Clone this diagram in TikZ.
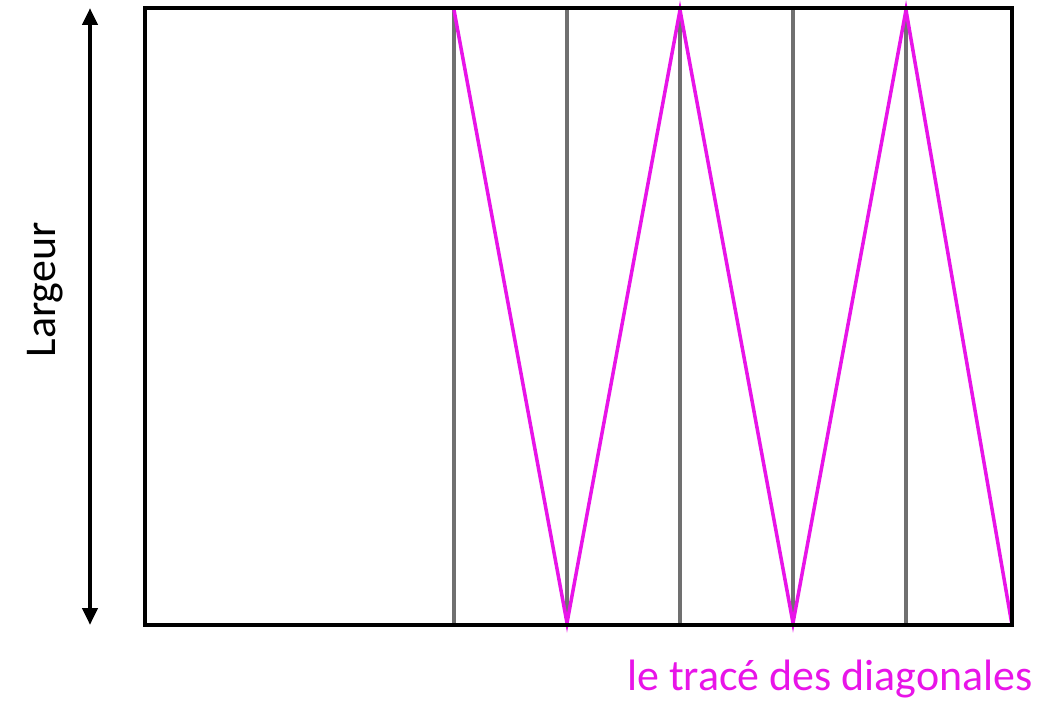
\documentclass[tikz,border=0pt]{standalone}
\usepackage{fontspec}
\setmainfont{Carlito}
\usetikzlibrary{arrows.meta, positioning}
\definecolor{zigzag}{RGB}{232,20,232}
\definecolor{guide}{RGB}{112,112,112}

\begin{document}
\begin{tikzpicture}[x=0.02cm, y=-0.02cm, inner sep=0pt,
    frame/.style={line width=2.2pt},
    guideline/.style={guide, line width=1.9pt},
    diag/.style={zigzag, line width=2pt, line join=miter},
    label/.style={font=\fontsize{25}{25}\selectfont}]
   \useasboundingbox (0,0) rectangle (1042,720);
   \coordinate (tl) at (145,8);
   \coordinate (br) at (1012,625);
   \coordinate (t1) at (454,10); \coordinate (b1) at (454,623);
   \coordinate (t2) at (567,10); \coordinate (b2) at (567,623);
   \coordinate (t3) at (680,10); \coordinate (b3) at (680,623);
   \coordinate (t4) at (793,10); \coordinate (b4) at (793,623);
   \coordinate (t5) at (906,10); \coordinate (b5) at (906,623);
   \coordinate (aup) at (90,8);
   \coordinate (adown) at (90,625);
   \draw[guideline] (t1) -- (b1) (t2) -- (b2) (t3) -- (b3) (t4) -- (b4) (t5) -- (b5);
   \draw[diag] (t1) -- (b2) -- (t3) -- (b4) -- (t5) -- (br);
   \draw[frame] (tl) rectangle (br);
   \draw[line width=2.6pt, {Triangle[length=0.34cm, width=0.3cm]}-{Triangle[length=0.34cm, width=0.3cm]}] (aup) -- (adown);
   \node[label, rotate=90] (largeur) at (45,290) {Largeur};
   \node[label, zigzag, anchor=base east] (trace) at (1033,690) {le tracé des diagonales};
\end{tikzpicture}
\end{document}
